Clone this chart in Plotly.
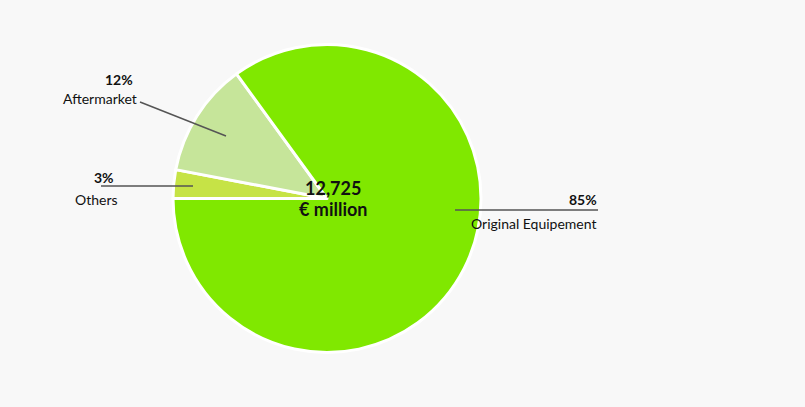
import plotly.graph_objects as go

categories = ["Others", "Aftermarket", "Original Equipement"]
shares = [3, 12, 85]
colors = ["#c6e346", "#c6e59a", "#80e800"]
total_label = ["12,725", "€ million"]

W, H = 805, 407

def px(x, y):
    return x / W, 1 - y / H

cx, cy, r = 327, 198.5, 154
x0, y0 = px(cx - r, cy + r)
x1, y1 = px(cx + r, cy - r)

fig = go.Figure(go.Pie(
    labels=categories, values=shares, sort=False,
    direction="clockwise", rotation=270,
    marker=dict(colors=colors, line=dict(color="white", width=3)),
    textinfo="none", hoverinfo="label+percent",
    domain=dict(x=[x0, x1], y=[y0, y1]),
    showlegend=False,
))

font = "Lato, 'Open Sans', sans-serif"
ann = []
def text(x, y, s, size=14, bold=False, anchor="right"):
    xx, yy = px(x, y)
    ann.append(dict(x=xx, y=yy, xref="paper", yref="paper", text=("<b>%s</b>" % s) if bold else s,
                    showarrow=False, xanchor=anchor, yanchor="middle",
                    font=dict(family=font, size=size, color="#111")))

# Aftermarket
text(135, 80, f"{shares[1]}%", bold=True)
text(139, 99, categories[1])
# Others
text(116, 177, f"{shares[0]}%", bold=True)
text(120, 199, categories[0])
# Original
text(599, 199, f"{shares[2]}%", bold=True)
text(599, 223, categories[2])
# center
text(333, 188, total_label[0], size=18, bold=True, anchor="center")
text(333, 209, total_label[1], size=18, bold=True, anchor="center")

shapes = []
def line(a, b, c, d):
    p, q = px(a, b)
    s, t = px(c, d)
    shapes.append(dict(type="line", xref="paper", yref="paper", x0=p, y0=q, x1=s, y1=t,
                       line=dict(color="#555", width=1.5)))
line(140, 102, 226, 136)
line(101, 186, 193, 186)
line(455, 210, 598, 210)

fig.update_layout(width=W, height=H, margin=dict(l=0, r=0, t=0, b=0),
                  paper_bgcolor="#f8f8f8", plot_bgcolor="#f8f8f8",
                  annotations=ann, shapes=shapes)
fig.write_html("out.html", config={"displayModeBar": False})

with open("out.html", encoding="utf-8") as f:
    html = f.read()
html = html.replace("<head>", "<head><style>html,body{margin:0;padding:0;background:#f8f8f8;}</style>", 1)
with open("out.html", "w", encoding="utf-8") as f:
    f.write(html)
